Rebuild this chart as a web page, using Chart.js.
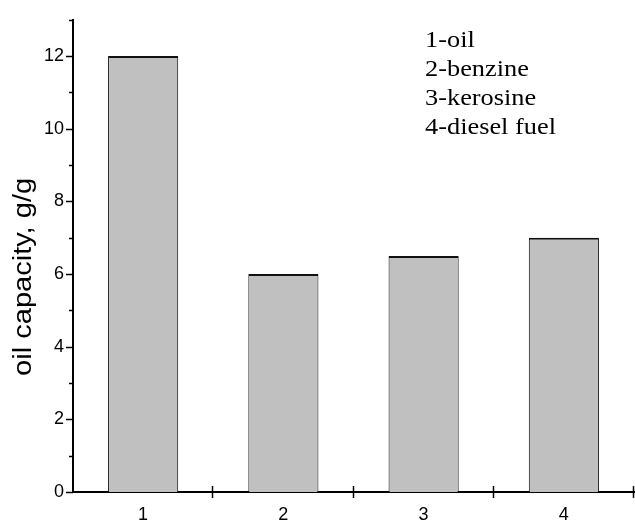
<!DOCTYPE html>
<html>
<head>
<meta charset="utf-8">
<script src="https://cdn.jsdelivr.net/npm/chart.js@4"></script>
<style>
  html, body { margin: 0; padding: 0; background: #fff; }
  #wrap { width: 635px; height: 525px; }
</style>
</head>
<body>
<div id="wrap"><canvas id="capChart" width="635" height="525"></canvas></div>
<script>
// Data
const categories = ["1", "2", "3", "4"];
const capacity = [12, 6, 6.5, 7];
const legendLines = ["1-oil", "2-benzine", "3-kerosine", "4-diesel fuel"];
const yTitle = "oil capacity, g/g";

const sansFont = "'Liberation Sans', Arial, sans-serif";

// Draws tick marks like the original plot (minor ticks on y, crossing ticks on x),
// the rotated y title and the text legend
const extras = {
    id: "extras",
    afterDraw(chart) {
        const ctx = chart.ctx;
        const x = chart.scales.x;
        const y = chart.scales.y;
        ctx.save();
        ctx.strokeStyle = "#000";
        ctx.lineWidth = 1.5;
        // y ticks
        for (let v = y.min; v <= y.max; v++) {
            const py = Math.round(y.getPixelForValue(v)) + 0.5;
            const len = v % 2 === 0 ? 7 : 4;
            ctx.beginPath();
            ctx.moveTo(y.right - len, py);
            ctx.lineTo(y.right, py);
            ctx.stroke();
        }
        // x ticks at category borders
        const half = (x.getPixelForValue(1) - x.getPixelForValue(0)) / 2;
        for (let i = 0; i < categories.length; i++) {
            const px = Math.round(x.getPixelForValue(i) + half) - 0.5;
            ctx.beginPath();
            ctx.moveTo(px, x.top - 6);
            ctx.lineTo(px, x.top + 6);
            ctx.stroke();
        }

        ctx.fillStyle = "#000";

        // y title, stretched a little along its length like the original
        ctx.save();
        ctx.font = "25px " + sansFont;
        const tw = ctx.measureText(yTitle).width;
        ctx.translate(24, (y.top + y.bottom) / 2 + 21);
        ctx.rotate(-Math.PI / 2);
        ctx.scale(198 / tw, 1);
        ctx.textAlign = "center";
        ctx.textBaseline = "middle";
        ctx.fillText(yTitle, 0, 0);
        ctx.restore();

        // legend text
        ctx.font = "23px 'Liberation Serif', 'Times New Roman', serif";
        const lw = ctx.measureText(legendLines[3]).width;
        const sx = 131 / lw;
        ctx.textBaseline = "middle";
        legendLines.forEach((t, i) => {
            ctx.save();
            ctx.translate(425, 41 + i * 29);
            ctx.scale(sx, 1);
            ctx.fillText(t, 0, 0);
            ctx.restore();
        });
        ctx.restore();
    }
};

const ctx = document.getElementById("capChart").getContext("2d");
const capChart = new Chart(ctx, {
    type: "bar",
    data: {
        labels: categories,
        datasets: [{
            data: capacity,
            backgroundColor: "#c0c0c0",
            borderColor: "#111",
            borderWidth: { top: 2, left: 1, right: 1, bottom: 0 },
            borderSkipped: false,
            barPercentage: 0.5,
            categoryPercentage: 1
        }]
    },
    options: {
        responsive: false,
        animation: false,
        layout: { padding: { top: 10, right: 1, left: 0, bottom: 0 } },
        plugins: {
            legend: { display: false },
            tooltip: { enabled: false }
        },
        scales: {
            x: {
                grid: { display: false, drawTicks: false },
                border: { display: true, color: "#000", width: 2 },
                ticks: {
                    color: "#000",
                    padding: 12,
                    font: { family: sansFont, size: 18 }
                },
                afterFit(scale) { scale.height = 33; }
            },
            y: {
                min: 0,
                max: 13,
                grid: { display: false, drawTicks: false },
                border: { display: true, color: "#000", width: 2 },
                ticks: {
                    stepSize: 1,
                    color: "#000",
                    padding: 9,
                    font: { family: sansFont, size: 18 },
                    callback: (v) => (v % 2 === 0 ? v : "")
                },
                afterFit(scale) { scale.width = 73; }
            }
        }
    },
    plugins: [extras]
});
</script>
</body>
</html>
